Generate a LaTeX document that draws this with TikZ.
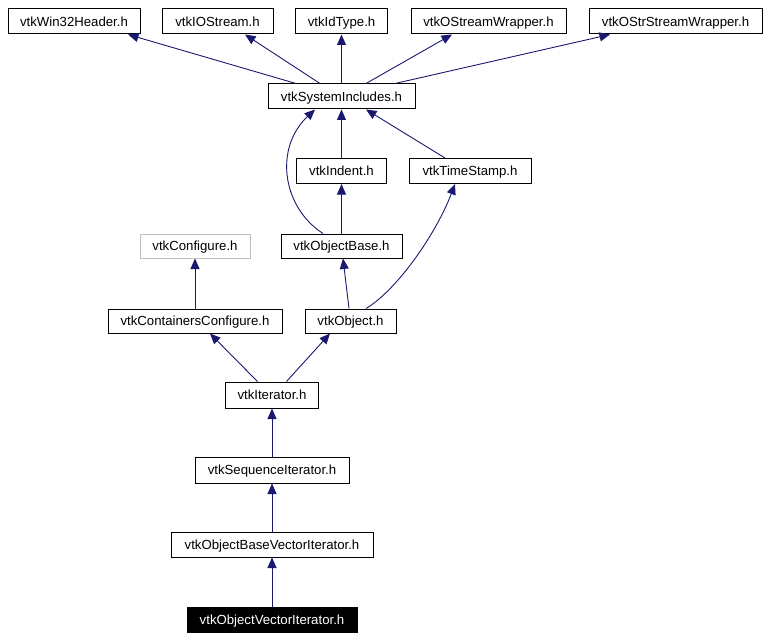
\documentclass[tikz,border=0pt]{standalone}
\usepackage{fontspec}
\setmainfont{Liberation Sans}
\usetikzlibrary{arrows.meta,calc}
\definecolor{edgeblue}{HTML}{191970}
\definecolor{lgray}{HTML}{BFBFBF}
\begin{document}
\begin{tikzpicture}[x=1pt,y=-1pt,
  box/.style={draw=black,line width=1pt,fill=white,inner sep=0pt,minimum height=25pt,text height=9.4pt,text depth=0pt,font=\fontsize{13.2}{15}\selectfont},
  edge/.style={draw=edgeblue,line width=0.9pt,-{Triangle[length=10.5pt,width=9pt]}}]
\useasboundingbox (0,0) rectangle (770,639);
\node[box,minimum width=132pt] (win32) at (74,21.5) {vtkWin32Header.h};
\node[box,minimum width=111pt] (iostream) at (217.5,21.5) {vtkIOStream.h};
\node[box,minimum width=92pt] (idtype) at (341.5,21.5) {vtkIdType.h};
\node[box,minimum width=155pt] (ostream) at (488.5,21.5) {vtkOStreamWrapper.h};
\node[box,minimum width=173pt] (ostrstream) at (675.5,21.5) {vtkOStrStreamWrapper.h};
\node[box,minimum width=147pt] (sysinc) at (341.5,96.5) {vtkSystemIncludes.h};
\node[box,minimum width=90pt] (indent) at (341.5,171) {vtkIndent.h};
\node[box,minimum width=122pt] (timestamp) at (470,171) {vtkTimeStamp.h};
\node[box,draw=lgray,minimum width=110pt,minimum height=24pt] (configure) at (195,246) {vtkConfigure.h};
\node[box,minimum width=121pt,minimum height=24pt] (objectbase) at (341.5,246) {vtkObjectBase.h};
\node[box,minimum width=174pt,minimum height=24pt] (containers) at (195,321) {vtkContainersConfigure.h};
\node[box,minimum width=91pt,minimum height=24pt] (object) at (350.5,321) {vtkObject.h};
\node[box,minimum width=93pt,minimum height=26pt] (iterator) at (272,395) {vtkIterator.h};
\node[box,minimum width=154pt,minimum height=26pt] (seqit) at (272,470) {vtkSequenceIterator.h};
\node[box,minimum width=202pt] (obvi) at (272,544.5) {vtkObjectBaseVectorIterator.h};
\node[box,fill=black,text=white,minimum width=170pt] (ovi) at (272,619.5) {vtkObjectVectorIterator.h};

\draw[edge] ([xshift=-45.5pt]sysinc.north) -- ([xshift=54pt]win32.south);
\draw[edge] ([xshift=-21.5pt]sysinc.north) -- ([xshift=27.5pt]iostream.south);
\draw[edge] (sysinc.north) -- (idtype.south);
\draw[edge] ([xshift=24.5pt]sysinc.north) -- ([xshift=-36.5pt]ostream.south);
\draw[edge] ([xshift=53.5pt]sysinc.north) -- ([xshift=-65.5pt]ostrstream.south);
\draw[edge] ([xshift=-18.5pt]objectbase.north) .. controls (282,207) and (274,148) .. ([xshift=-26.5pt]sysinc.south);
\draw[edge] (indent.north) -- (sysinc.south);
\draw[edge] ([xshift=-25pt]timestamp.north) -- ([xshift=24.5pt]sysinc.south);
\draw[edge] (objectbase.north) -- (indent.south);
\draw[edge] ([xshift=-1.5pt]object.north) -- ([xshift=1.5pt]objectbase.south);
\draw[edge] ([xshift=15.5pt]object.north) .. controls (397,290) and (436,234) .. ([xshift=-15pt]timestamp.south);
\draw[edge] (containers.north) -- (configure.south);
\draw[edge] ([xshift=-14.5pt]iterator.north) -- ([xshift=15pt]containers.south);
\draw[edge] ([xshift=14.5pt]iterator.north) -- ([xshift=-20.5pt]object.south);
\draw[edge] (seqit.north) -- (iterator.south);
\draw[edge] (obvi.north) -- (seqit.south);
\draw[edge] (ovi.north) -- (obvi.south);
\end{tikzpicture}
\end{document}
